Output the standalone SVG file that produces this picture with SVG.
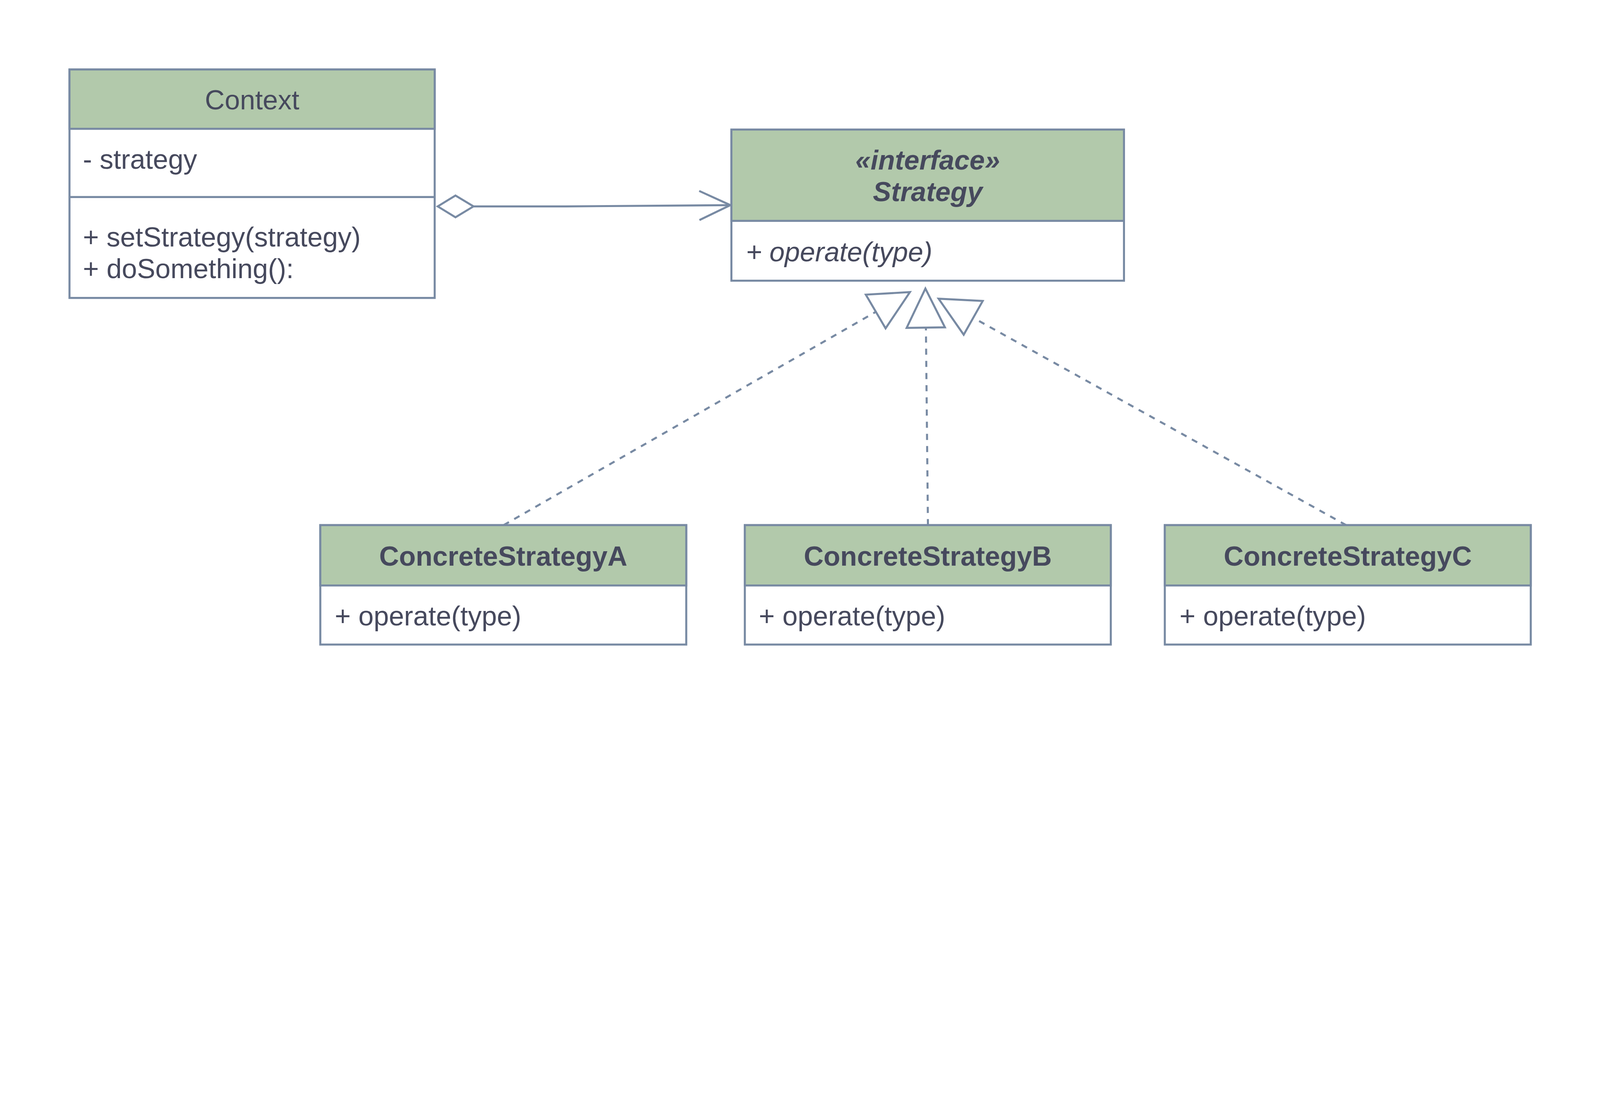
<svg xmlns="http://www.w3.org/2000/svg" width="6309" height="2844" viewBox="0 0 6309 2844" style="max-width:100%;height:auto">
<style>
  .box{fill:#FFFFFF;stroke:#788AA3;stroke-width:8}
  .hdr{fill:#B2C9AB;stroke:#788AA3;stroke-width:8}
  .sep{stroke:#788AA3;stroke-width:8;fill:none}
  .t{font-family:"Liberation Sans",Arial,Helvetica,sans-serif;font-size:108px;fill:#46495D}
  .c{text-anchor:middle}
  .b{font-weight:bold}
  .i{font-style:italic}
  .edge{fill:none;stroke:#788AA3;stroke-width:8}
  .dash{stroke-dasharray:24 24}
  .head{fill:#FFFFFF;stroke:#788AA3;stroke-width:8;stroke-linejoin:miter}
</style>
<rect width="6309" height="2844" fill="#FFFFFF"/>

<g id="connectors">
  <path class="edge dash" d="M1986,2071 L3460,1226"/>
  <path class="edge dash" d="M3659,2071 L3651,1293"/>
  <path class="edge dash" d="M5308,2071 L3830,1249"/>
  <polygon class="head" points="3414,1162 3588,1152 3492,1295"/>
  <polygon class="head" points="3649,1138 3726,1291 3575,1293"/>
  <polygon class="head" points="3701,1178 3875,1187 3800,1320"/>
  <path class="edge" d="M1867,814 L2230,814 L2880,809"/>
  <polygon class="head" points="1726,814 1796,771 1867,814 1796,857"/>
  <polyline class="edge" points="2757,753 2880,809 2758,868"/>
</g>

<g id="Context">
  <rect class="box" x="274" y="274" width="1440" height="901"/>
  <rect class="hdr" x="274" y="274" width="1440" height="234"/>
  <line class="sep" x1="274" y1="777" x2="1714" y2="777"/>
  <text class="t c" x="994" y="431">Context</text>
  <text class="t" x="327" y="665">- strategy</text>
  <text class="t" x="327" y="972">+ setStrategy(strategy)</text>
  <text class="t" x="327" y="1097">+ doSomething():</text>
</g>

<g id="Strategy">
  <rect class="box" x="2884" y="511" width="1548" height="596"/>
  <rect class="hdr" x="2884" y="511" width="1548" height="360"/>
  <text class="t c b i" x="3658" y="669">«interface»</text>
  <text class="t c b i" x="3658" y="794">Strategy</text>
  <text class="t i" x="2941" y="1030">+ operate(type)</text>
</g>

<g id="ConcreteStrategyA">
  <rect class="box" x="1263" y="2071" width="1443" height="471"/>
  <rect class="hdr" x="1263" y="2071" width="1443" height="238"/>
  <text class="t c b" x="1984.5" y="2231">ConcreteStrategyA</text>
  <text class="t" x="1320" y="2466">+ operate(type)</text>
</g>

<g id="ConcreteStrategyB">
  <rect class="box" x="2937" y="2071" width="1443" height="471"/>
  <rect class="hdr" x="2937" y="2071" width="1443" height="238"/>
  <text class="t c b" x="3658.5" y="2231">ConcreteStrategyB</text>
  <text class="t" x="2992" y="2466">+ operate(type)</text>
</g>

<g id="ConcreteStrategyC">
  <rect class="box" x="4593" y="2071" width="1443" height="471"/>
  <rect class="hdr" x="4593" y="2071" width="1443" height="238"/>
  <text class="t c b" x="5314.5" y="2231">ConcreteStrategyC</text>
  <text class="t" x="4651" y="2466">+ operate(type)</text>
</g>
</svg>
